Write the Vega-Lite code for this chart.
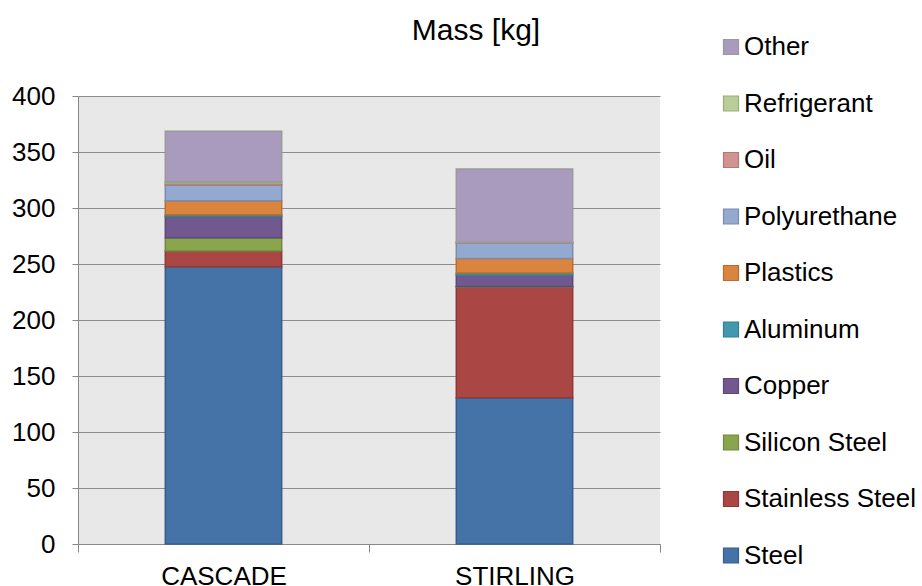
{
  "$schema": "https://vega.github.io/schema/vega-lite/v6.json",
  "width": 582,
  "height": 448,
  "autosize": {"type": "none"},
  "padding": {"left": 78, "top": 96, "right": 262, "bottom": 42},
  "background": "white",
  "config": {
    "font": "Liberation Sans",
    "view": {"fill": "#e8e8e8", "stroke": null}
  },
  "title": {"text": "Mass [kg]", "fontSize": 30, "fontWeight": "normal", "color": "#000", "dx": 107, "offset": -12},
  "data": {
    "values": [
      {"system": "CASCADE", "material": "Steel", "o": 1, "mass": 247.5},
      {"system": "CASCADE", "material": "Stainless Steel", "o": 2, "mass": 14},
      {"system": "CASCADE", "material": "Silicon Steel", "o": 3, "mass": 12},
      {"system": "CASCADE", "material": "Copper", "o": 4, "mass": 19},
      {"system": "CASCADE", "material": "Aluminum", "o": 5, "mass": 1.5},
      {"system": "CASCADE", "material": "Plastics", "o": 6, "mass": 12.5},
      {"system": "CASCADE", "material": "Polyurethane", "o": 7, "mass": 14},
      {"system": "CASCADE", "material": "Oil", "o": 8, "mass": 1.5},
      {"system": "CASCADE", "material": "Refrigerant", "o": 9, "mass": 1.5},
      {"system": "CASCADE", "material": "Other", "o": 10, "mass": 45},
      {"system": "STIRLING", "material": "Steel", "o": 1, "mass": 130.5},
      {"system": "STIRLING", "material": "Stainless Steel", "o": 2, "mass": 99},
      {"system": "STIRLING", "material": "Silicon Steel", "o": 3, "mass": 0.5},
      {"system": "STIRLING", "material": "Copper", "o": 4, "mass": 10},
      {"system": "STIRLING", "material": "Aluminum", "o": 5, "mass": 2},
      {"system": "STIRLING", "material": "Plastics", "o": 6, "mass": 12.8},
      {"system": "STIRLING", "material": "Polyurethane", "o": 7, "mass": 14},
      {"system": "STIRLING", "material": "Oil", "o": 8, "mass": 0.3},
      {"system": "STIRLING", "material": "Refrigerant", "o": 9, "mass": 0.3},
      {"system": "STIRLING", "material": "Other", "o": 10, "mass": 65.5}
    ]
  },
  "mark": {"type": "bar", "strokeWidth": 1.5, "width": {"band": 0.4}},
  "encoding": {
    "x": {
      "field": "system", "type": "nominal",
      "scale": {"paddingInner": 0, "paddingOuter": 0},
      "axis": {"title": null, "labelAngle": 0, "labelFontSize": 26, "labelColor": "#000", "labelPadding": 11,
               "domainColor": "#888", "tickColor": "#888", "tickBand": "extent", "tickSize": 8}
    },
    "y": {
      "field": "mass", "type": "quantitative", "stack": "zero",
      "scale": {"domain": [0, 400]},
      "axis": {"title": null, "values": [0, 50, 100, 150, 200, 250, 300, 350, 400], "labelFontSize": 26, "labelColor": "#000",
               "domainColor": "#888", "tickColor": "#888", "tickSize": 6, "labelPadding": 17, "gridColor": "#8c8c8c", "gridWidth": 1.2}
    },
    "order": {"field": "o", "type": "quantitative"},
    "color": {
      "field": "material", "type": "nominal",
      "scale": {
        "domain": ["Other", "Refrigerant", "Oil", "Polyurethane", "Plastics", "Aluminum", "Copper", "Silicon Steel", "Stainless Steel", "Steel"],
        "range": ["#A99BBD", "#B9CD96", "#D19392", "#93A9CF", "#DB843D", "#4198AF", "#71588F", "#89A54E", "#AA4643", "#4572A7"]
      },
      "legend": {
        "title": null, "orient": "none", "legendX": 640, "legendY": -62,
        "symbolType": "square", "symbolSize": 225, "symbolStrokeWidth": 1.2,
        "labelFontSize": 26, "labelColor": "#000", "labelOffset": 0, "rowPadding": 30.5, "labelLimit": 300
      }
    },
    "stroke": {
      "field": "material", "type": "nominal",
      "scale": {
        "domain": ["Other", "Refrigerant", "Oil", "Polyurethane", "Plastics", "Aluminum", "Copper", "Silicon Steel", "Stainless Steel", "Steel"],
        "range": ["#9a9a9a", "#9aab7c", "#b07a79", "#7b8dad", "#b86e32", "#357f92", "#5e4977", "#718a40", "#8e3a37", "#385f8b"]
      },
      "legend": null
    }
  }
}
